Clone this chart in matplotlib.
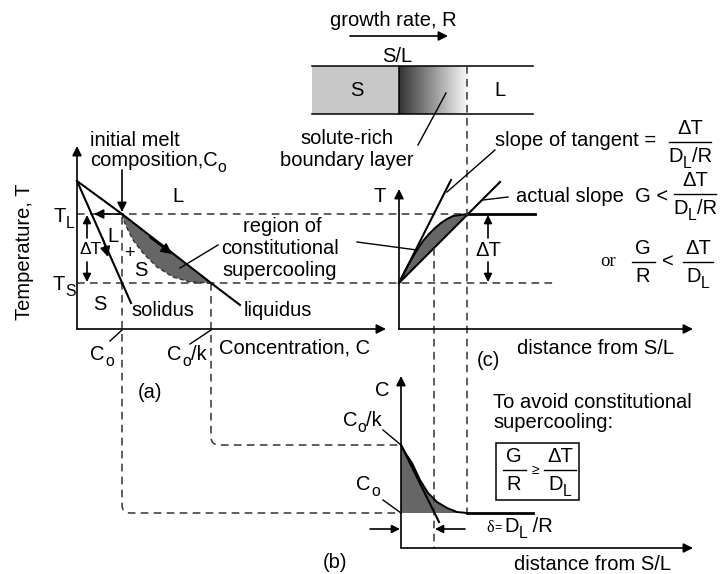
import numpy as np
import matplotlib
matplotlib.use("Agg")
import matplotlib.pyplot as plt
from matplotlib.path import Path
from matplotlib.patches import PathPatch, Rectangle

plt.rcParams['font.family'] = ['Liberation Sans', 'DejaVu Sans']

# sketch values, in pixel units of the drawing (x right, y down)
# (a) phase diagram
liquidus_x = [77, 122, 211, 240]
liquidus_y = [181, 214, 283, 305]
solidus_x = [77, 131]
solidus_y = [181, 303]
supercool_a_x = [122, 124, 127, 133, 143, 157, 173, 190, 211]
supercool_a_y = [214, 221, 228, 240, 253, 267, 277, 282, 283]
T_L, T_S = 214, 283
C_o, C_o_k = 122, 211

# (c) temperature profile ahead of the interface
temp_x = [399, 405, 411, 417, 423, 429, 435, 441, 447, 453, 460, 468]
temp_y = [283, 271, 260, 250, 241, 234, 228, 223, 219, 216, 215, 214]
tangent_x = [399, 451]
tangent_y = [283, 180]
actual_x = [399, 500]
actual_y = [283, 182]

# (b) concentration profile ahead of the interface
conc_x = [401, 406, 412, 420, 428, 437, 447, 457, 467]
conc_y = [445, 454, 463, 480, 493, 502, 508, 512, 513]
conc_tangent_x = [401, 439]
conc_tangent_y = [445, 522]
delta_x = 434
layer_x = 467

FS = 14.5
GREY = '#666666'
DASH = dict(color='#333333', lw=1.1, linestyle=(0, (5, 3.5)))

fig = plt.figure(figsize=(7.2, 5.74), dpi=100)
ax = fig.add_axes([0, 0, 1, 1])
ax.set_xlim(0, 720)
ax.set_ylim(574, 0)
ax.axis('off')
renderer = fig.canvas.get_renderer()


def arrow(x0, y0, x1, y1, lw=1.2, ms=14):
    ax.annotate('', xy=(x1, y1), xytext=(x0, y0),
                arrowprops=dict(arrowstyle='-|>', color='k', lw=lw,
                                mutation_scale=ms, shrinkA=0, shrinkB=0))


def width_of(s, fs):
    t = ax.text(0, 0, s, fontsize=fs)
    w = t.get_window_extent(renderer).width
    t.remove()
    return w


def label(x, y, parts, fs=FS, ha='center'):
    # parts: list of (text, is_subscript); subscripts drawn lower and smaller
    sizes = [fs * 0.78 if s else fs for _, s in parts]
    widths = [width_of(t, f) for (t, _), f in zip(parts, sizes)]
    total = sum(widths)
    x0 = x - total / 2 if ha == 'center' else x
    for (t, s), f, w in zip(parts, sizes, widths):
        ax.text(x0, y + (7 if s else 0), t, fontsize=f, va='center')
        x0 += w


def frac(xc, yc, num, den, w, fs=FS):
    label(xc, yc - 13, num, fs)
    ax.plot([xc - w / 2, xc + w / 2], [yc, yc], color='k', lw=1.0)
    label(xc, yc + 14, den, fs)


def dashed_corner(x, y_top, y_corner, x_end, r=8):
    verts = [(x, y_top), (x, y_corner - r), (x, y_corner), (x + r, y_corner),
             (x_end, y_corner)]
    codes = [Path.MOVETO, Path.LINETO, Path.CURVE3, Path.CURVE3, Path.LINETO]
    ax.add_patch(PathPatch(Path(verts, codes), fill=False, **DASH))


DT = [('ΔT', False)]
DLR = [('D', False), ('L', True), ('/R', False)]
DL = [('D', False), ('L', True)]

# ---------- top bar ----------
ax.text(393, 20, 'growth rate, R', fontsize=FS, ha='center', va='center')
arrow(350, 36, 448, 36)
ax.text(397, 57, 'S/L', fontsize=FS, ha='center', va='center')
ax.add_patch(Rectangle((312, 66), 87, 48, color='#c8c8c8', lw=0))
grad = np.linspace(0.2, 0.97, 256)[None, :]
ax.imshow(grad, cmap='gray', vmin=0, vmax=1, extent=[399, 467, 114, 66],
          aspect='auto', zorder=1)
ax.plot([312, 533], [66, 66], color='k', lw=1.1)
ax.plot([312, 533], [114, 114], color='k', lw=1.1)
ax.plot([399, 399], [66, 114], color='k', lw=1.1)
ax.text(357, 91, 'S', fontsize=FS, ha='center', va='center')
ax.text(500, 91, 'L', fontsize=FS, ha='center', va='center')
ax.text(347, 138, 'solute-rich', fontsize=FS, ha='center', va='center')
ax.text(347, 160, 'boundary layer', fontsize=FS, ha='center', va='center')
ax.plot([418, 446], [145, 93], color='k', lw=1.0)

# ---------- (a) ----------
arrow(77, 329, 77, 146)
arrow(77, 329, 386, 329)
ax.plot([77, 468], [T_L, T_L], **DASH)
ax.plot([77, 555], [T_S, T_S], **DASH)
ax.fill(np.r_[supercool_a_x, C_o], np.r_[supercool_a_y, T_L],
        color=GREY, lw=0)
ax.plot(supercool_a_x, supercool_a_y, color='#333333', lw=1.0,
        linestyle=(0, (3, 2)))
ax.plot(liquidus_x, liquidus_y, color='k', lw=1.5)
ax.plot(solidus_x, solidus_y, color='k', lw=1.5)
arrow(150, 237.5, 172, 254, ms=16)
arrow(103, 239, 108, 257, ms=15)
arrow(C_o, T_L, 94, T_L)
dashed_corner(C_o, T_L + 3, 513, 401)
dashed_corner(C_o_k, T_S, 445, 401)
arrow(C_o, 170, C_o, 212)
ax.text(90, 140, 'initial melt', fontsize=FS, va='center')
label(90, 160, [('composition,C', False), ('o', True)], ha='left')
ax.text(178, 197, 'L', fontsize=FS, ha='center', va='center')
label(64, 216, [('T', False), ('L', True)])
label(64, 285, [('T', False), ('S', True)])
arrow(87, 238, 87, 215, ms=12)
arrow(87, 262, 87, 282, ms=12)
ax.text(91, 250, 'ΔT', fontsize=12.5, ha='center', va='center')
ax.text(113, 236, 'L', fontsize=FS, ha='center', va='center')
ax.text(129, 254, '+', fontsize=13, ha='center', va='center')
ax.text(141, 271, 'S', fontsize=FS, ha='center', va='center')
ax.text(100, 305, 'S', fontsize=FS, ha='center', va='center')
ax.text(163, 311, 'solidus', fontsize=FS, ha='center', va='center')
ax.text(278, 310, 'liquidus', fontsize=FS, ha='center', va='center')
ax.text(282, 226, 'region of', fontsize=FS, ha='center', va='center')
ax.text(280, 249, 'constitutional', fontsize=FS, ha='center', va='center')
ax.text(280, 271, 'supercooling', fontsize=FS, ha='center', va='center')
ax.plot([218, 180], [245, 268], color='k', lw=1.0)
ax.plot([357, 417], [242, 250], color='k', lw=1.0)
ax.text(25, 252, 'Temperature, T', fontsize=FS, rotation=90,
        ha='center', va='center')
label(102, 354, [('C', False), ('o', True)])
ax.plot([110, C_o], [341, 330], color='k', lw=1.0)
label(187, 354, [('C', False), ('o', True), ('/k', False)])
ax.plot([190, C_o_k], [344, 330], color='k', lw=1.0)
ax.text(219, 348, 'Concentration, C', fontsize=FS, va='center')
ax.text(150, 392, '(a)', fontsize=FS, ha='center', va='center')

# ---------- (c) ----------
arrow(399, 329, 399, 189)
arrow(399, 329, 693, 329)
ax.text(380, 196, 'T', fontsize=FS, ha='center', va='center')
ax.fill(np.r_[temp_x, actual_x[0]], np.r_[temp_y, actual_y[0]],
        color=GREY, lw=0)
ax.plot(temp_x, temp_y, color='k', lw=1.4)
ax.plot([temp_x[-1], 535], [temp_y[-1], temp_y[-1]], color='k', lw=2.0)
ax.plot(tangent_x, tangent_y, color='k', lw=1.5)
ax.plot(actual_x, actual_y, color='k', lw=1.5)
ax.plot([layer_x, layer_x], [66, 513], **DASH)
ax.plot([delta_x, delta_x], [248, 548], **DASH)
arrow(488, 238, 488, 215, ms=12)
arrow(488, 262, 488, 282, ms=12)
ax.text(488, 250, 'ΔT', fontsize=FS, ha='center', va='center')
ax.text(495, 141, 'slope of tangent =', fontsize=FS, va='center')
frac(690, 142, DT, DLR, 42)
ax.plot([495, 447], [150, 192], color='k', lw=1.0)
ax.text(516, 197, 'actual slope  G <', fontsize=FS, va='center')
frac(695, 194, DT, DLR, 42)
ax.plot([508, 483], [197, 200], color='k', lw=1.0)
ax.text(608, 261, 'or', fontsize=13.5, family='Liberation Serif',
        ha='center', va='center')
frac(643, 262, [('G', False)], [('R', False)], 23)
ax.text(668, 262, '<', fontsize=FS, ha='center', va='center')
frac(698, 262, DT, DL, 30)
ax.text(517, 349, 'distance from S/L', fontsize=FS, va='center')
ax.text(488, 360, '(c)', fontsize=FS, ha='center', va='center')

# ---------- (b) ----------
arrow(401, 548, 401, 376)
arrow(401, 548, 693, 548)
ax.text(382, 391, 'C', fontsize=FS, ha='center', va='center')
ax.fill(np.r_[conc_x, 401], np.r_[conc_y, 513], color=GREY, lw=0)
ax.plot(conc_x, conc_y, color='k', lw=1.4)
ax.plot([layer_x, 533], [513, 513], color='k', lw=2.0)
ax.plot(conc_tangent_x, conc_tangent_y, color='k', lw=1.5)
label(362, 420, [('C', False), ('o', True), ('/k', False)])
ax.plot([383, 401], [430, 445], color='k', lw=1.0)
label(368, 484, [('C', False), ('o', True)])
ax.plot([383, 401], [500, 513], color='k', lw=1.0)
arrow(370, 529, 400, 529, ms=12)
arrow(465, 529, 435, 529, ms=12)
ax.text(490, 528, 'δ', fontsize=11.5, family='Liberation Serif',
        ha='center', va='center')
ax.text(498, 528, '=', fontsize=9, ha='center', va='center')
label(504, 527, [('D', False), ('L', True), (' /R', False)], ha='left')
ax.text(493, 402, 'To avoid constitutional', fontsize=FS, va='center')
ax.text(493, 423, 'supercooling:', fontsize=FS, va='center')
ax.add_patch(Rectangle((496, 443), 83, 57, fill=False, ec='k', lw=1.1))
frac(514, 470, [('G', False)], [('R', False)], 23)
ax.text(535, 470, '≥', fontsize=10, ha='center', va='center')
frac(560, 470, DT, DL, 32)
ax.text(335, 562, '(b)', fontsize=FS, ha='center', va='center')
ax.text(593, 565, 'distance from S/L', fontsize=FS, ha='center', va='center')

ax.set_xlim(0, 720)
ax.set_ylim(574, 0)
fig.savefig('out.png', dpi=100)
